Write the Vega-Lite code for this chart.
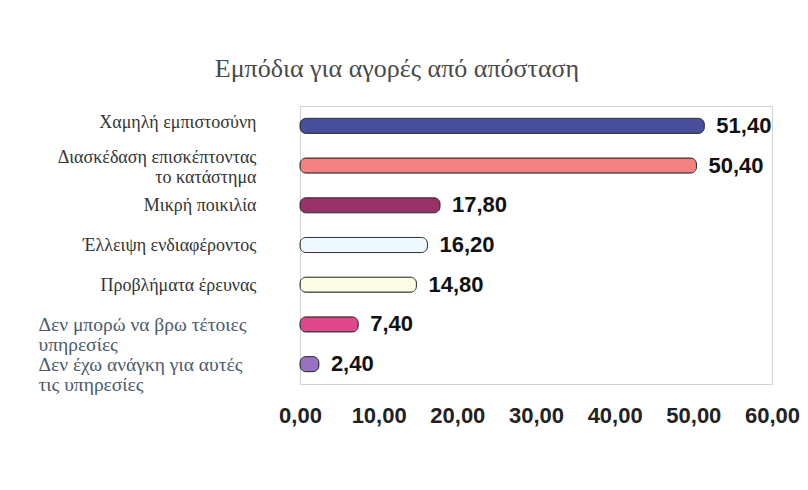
{
  "$schema": "https://vega.github.io/schema/vega-lite/v6.json",
  "width": 472,
  "height": 278,
  "autosize": {"type": "none"},
  "padding": {"left": 300, "top": 106, "right": 36, "bottom": 106},
  "background": "white",
  "config": {
    "locale": {"number": {"decimal": ",", "thousands": ".", "grouping": [3], "currency": ["", " €"]}},
    "view": {"stroke": "#d2d2d2", "strokeWidth": 1}
  },
  "title": {
    "text": "Εμπόδια για αγορές από απόσταση",
    "font": "Liberation Serif",
    "fontSize": 26,
    "fontWeight": "normal",
    "color": "#4a4a4a",
    "dx": -139,
    "offset": 24
  },
  "data": {
    "values": [
      {"category": "Χαμηλή εμπιστοσύνη", "value": 51.4},
      {"category": "Διασκέδαση επισκέπτοντας|το κατάστημα", "value": 50.4},
      {"category": "Μικρή ποικιλία", "value": 17.8},
      {"category": "Έλλειψη ενδιαφέροντος", "value": 16.2},
      {"category": "Προβλήματα έρευνας", "value": 14.8},
      {"category": "Δεν μπορώ να βρω τέτοιες|υπηρεσίες", "value": 7.4},
      {"category": "Δεν έχω ανάγκη για αυτές|τις υπηρεσίες", "value": 2.4}
    ]
  },
  "encoding": {
    "y": {
      "field": "category",
      "type": "nominal",
      "sort": null,
      "scale": {"paddingInner": 0.62, "paddingOuter": 0.31},
      "axis": {
        "title": null,
        "domain": false,
        "ticks": false,
        "labelExpr": "split(datum.label, '|')",
        "labelFont": "Liberation Serif",
        "labelFontSize": {"condition": {"test": "indexof(datum.value, 'Δεν') === 0", "value": 19.5}, "value": 18},
        "labelLineHeight": 20,
        "labelLimit": 300,
        "labelColor": {"condition": {"test": "indexof(datum.value, 'Δεν') === 0", "value": "#4b5a6e"}, "value": "#333333"},
        "labelAlign": {"condition": {"test": "indexof(datum.value, 'Δεν') === 0", "value": "left"}, "value": "right"},
        "labelPadding": {"condition": {"test": "indexof(datum.value, 'Δεν') === 0", "value": 262}, "value": 44},
        "labelOffset": {"condition": [
          {"test": "indexof(datum.value, 'Δεν') === 0", "value": 1},
          {"test": "indexof(datum.value, 'Διασκέδαση') === 0", "value": -8},
          {"test": "indexof(datum.value, 'Χαμηλή') === 0", "value": -3}
        ], "value": 1}
      }
    }
  },
  "layer": [
    {
      "mark": {"type": "bar", "cornerRadius": 6, "stroke": "#333333", "strokeWidth": 1},
      "encoding": {
        "x": {
          "field": "value",
          "type": "quantitative",
          "scale": {"domain": [0, 60], "nice": false},
          "axis": {
            "title": null,
            "domain": false,
            "ticks": false,
            "grid": false,
            "values": [0, 10, 20, 30, 40, 50, 60],
            "format": ".2f",
            "labelFont": "Liberation Sans",
            "labelFontWeight": "bold",
            "labelFontSize": 22,
            "labelColor": "#222222",
            "labelPadding": 21,
            "labelFlush": false
          }
        },
        "color": {
          "field": "category",
          "type": "nominal",
          "sort": null,
          "legend": null,
          "scale": {
            "domain": [
              "Χαμηλή εμπιστοσύνη",
              "Διασκέδαση επισκέπτοντας|το κατάστημα",
              "Μικρή ποικιλία",
              "Έλλειψη ενδιαφέροντος",
              "Προβλήματα έρευνας",
              "Δεν μπορώ να βρω τέτοιες|υπηρεσίες",
              "Δεν έχω ανάγκη για αυτές|τις υπηρεσίες"
            ],
            "range": ["#484d9c", "#f68181", "#9a3068", "#eef9ff", "#fdfde6", "#e0468a", "#9a70c0"]
          }
        }
      }
    },
    {
      "mark": {
        "type": "text",
        "align": "left",
        "baseline": "middle",
        "dx": 12,
        "font": "Liberation Sans",
        "fontWeight": "bold",
        "fontSize": 22,
        "color": "#111111"
      },
      "encoding": {
        "x": {"field": "value", "type": "quantitative"},
        "text": {"field": "value", "type": "quantitative", "format": ".2f"}
      }
    }
  ]
}
